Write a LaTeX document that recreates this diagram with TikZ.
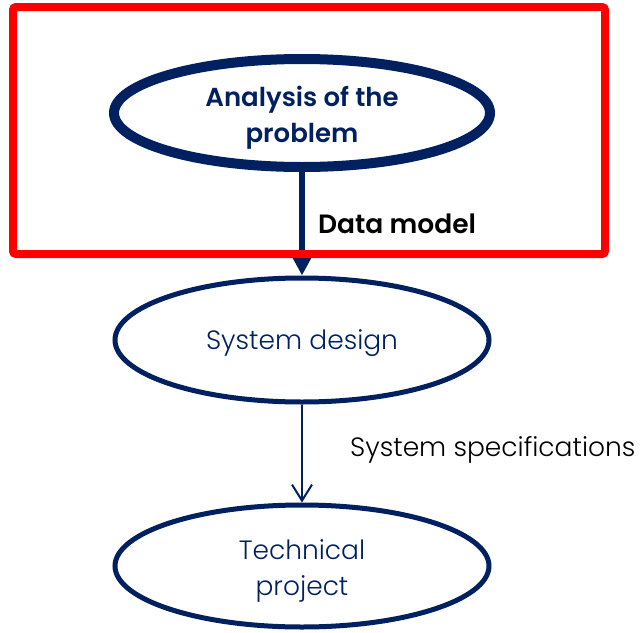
\documentclass[tikz,border=0pt]{standalone}
\usepackage{fontspec}
\usetikzlibrary{arrows.meta,shapes.geometric}
\setmainfont{Poppins}
\IfFontExistsTF{Poppins Light}{\newfontfamily\lightfont{Poppins Light}}{\newfontfamily\lightfont{Poppins}}
\IfFontExistsTF{Poppins SemiBold}{\newfontfamily\boldfont{Poppins SemiBold}}{\newfontfamily\boldfont{Poppins}[FakeBold=1.5]}
\definecolor{navy}{HTML}{002060}
\definecolor{alertred}{HTML}{FF0000}
\begin{document}
\begin{tikzpicture}[x=1pt,y=-1pt,
  phase/.style={ellipse, draw=navy, fill=white, inner sep=0pt},
  mainphase/.style={phase, line width=10pt},
  subphase/.style={phase, line width=5pt},
  phasetext/.style={inner sep=0pt, align=center, text=navy},
  maintext/.style={phasetext, font=\boldfont\fontsize{26}{36}\selectfont},
  subtext/.style={phasetext, font=\lightfont\fontsize{26.5}{36}\selectfont},
  flowlabel/.style={inner sep=0pt, text=black},
]
\useasboundingbox (0,0) rectangle (640,632);

% the three phases
\node[mainphase, minimum width=376pt, minimum height=108pt] (analysis) at (302,113) {};
\node[subphase, minimum width=374pt, minimum height=124pt] (design) at (302,340) {};
\node[subphase, minimum width=374pt, minimum height=122pt] (project) at (302,566) {};

% phase titles, set slightly below the centre of each ellipse
\node[maintext] (analysis-text) at ([yshift=-5pt]analysis.center) {Analysis of the\\problem};
\node[subtext] (design-text) at ([yshift=-3pt]design.center) {System design};
\node[subtext] (project-text) at ([yshift=-5pt]project.center) {Technical\\project};

% connectors between phases
\draw[navy, line width=6pt, -{Triangle[length=22pt,width=22pt]}] (analysis.south) -- (design.north);
\draw[navy, line width=2pt, -{Straight Barb[length=16pt,width=20pt]}] (design.south) -- (project.north);

% highlighted stage
\draw[alertred, line width=8pt, rounded corners=3pt] (13,7) rectangle (605,254);

% connector labels
\node[flowlabel, anchor=base west, font=\boldfont\fontsize{26.5}{30}\selectfont] (datamodel) at (318,233) {Data model};
\node[flowlabel, anchor=base west, font=\lightfont\fontsize{26.5}{30}\selectfont] (specs) at (350,456) {System specifications};
\end{tikzpicture}
\end{document}
